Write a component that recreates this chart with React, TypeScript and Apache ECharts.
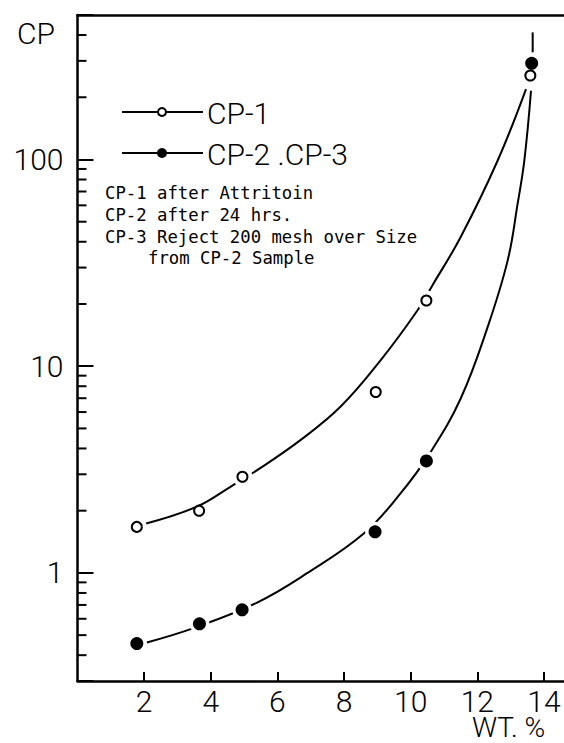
import React, { useEffect, useRef } from "react";
import * as echarts from "echarts";

// Measured points: CP-1 (open circles) and CP-2/CP-3 (filled circles)
const cp1X = [1.78, 3.65, 4.95, 8.95, 10.47, 13.59];
const cp1Y = [1.67, 2.0, 2.92, 7.5, 20.8, 255];
const cp2X = [1.78, 3.66, 4.94, 8.93, 10.47, 13.63];
const cp2Y = [0.455, 0.567, 0.663, 1.58, 3.48, 292];

// Hand-fitted trend curves
const cp1CurveX = [1.98, 3.58, 4.59, 5.39, 6.69, 7.89, 9.1, 10.2, 10.65, 11.5, 12.61, 13.46];
const cp1CurveY = [1.72, 2.09, 2.61, 3.14, 4.39, 6.36, 10.7, 18.6, 24.6, 42.2, 98.9, 219];
const cp2CurveX = [2.08, 3.48, 5.39, 6.89, 8.6, 9.7, 10.6, 11.5, 12.31, 12.91, 13.21, 13.41, 13.61];
const cp2CurveY = [0.461, 0.541, 0.719, 0.997, 1.555, 2.43, 3.85, 6.98, 15.5, 32.5, 61.3, 98.9, 215];

// Short vertical stroke above the last points
const topMarkX = [13.66, 13.66];
const topMarkY = [330, 412];

// Axis settings
const xTickValues = [2, 4, 6, 8, 10, 12, 14];
const yLabelValues = [1, 10, 100];
const yMinorTicks = [
  0.4, 0.5, 0.6, 0.7, 0.8, 0.9,
  2, 3, 4, 5, 6, 7, 8, 9,
  20, 30, 40, 50, 60, 70, 80, 90,
  200, 300, 400,
];

const legendLabels = ["CP-1", "CP-2 .CP-3"];
const noteLines = [
  "CP-1 after Attritoin",
  "CP-2 after 24 hrs.",
  "CP-3 Reject 200 mesh over Size",
  "from CP-2 Sample",
];

const zip = (xs: number[], ys: number[]) => xs.map((x, i) => [x, ys[i]]);

const SANS = "Roboto, 'Liberation Sans', sans-serif";
const MONO = "'DejaVu Sans Mono', 'Liberation Mono', monospace";

export default function App() {
  const ref = useRef<HTMLDivElement>(null);

  useEffect(() => {
    document.body.style.margin = "0";
    if (!ref.current) return;
    const chart = echarts.init(ref.current, null, { renderer: "svg" });

    const axisLabelStyle = {
      color: "#000",
      fontSize: 30,
      fontFamily: SANS,
      fontWeight: 300 as any,
    };

    const cp1Pts = zip(cp1X, cp1Y);
    const cp2Pts = zip(cp2X, cp2Y);
    // White halos break the curves around the markers
    const haloPts = [...cp1Pts.filter((_, i) => i !== 1), ...cp2Pts];

    const noteY = [193, 215, 237, 258];

    chart.setOption({
      animation: false,
      grid: { left: 77.5, right: 0, top: 15, bottom: 62 },
      xAxis: [
        {
          type: "value",
          min: 0,
          max: 14.6,
          interval: 2,
          axisLine: { lineStyle: { color: "#000", width: 2.5 } },
          axisTick: { inside: true, length: 9, lineStyle: { color: "#000", width: 2 } },
          axisLabel: {
            ...axisLabelStyle,
            margin: 5,
            showMinLabel: false,
            showMaxLabel: false,
            formatter: (v: number) => (xTickValues.includes(v) ? String(v) : ""),
          },
          splitLine: { show: false },
        },
        {
          type: "value",
          position: "top",
          min: 0,
          max: 14.6,
          axisLine: { show: true, lineStyle: { color: "#000", width: 2.5 } },
          axisTick: { show: false },
          axisLabel: { show: false },
          splitLine: { show: false },
        },
      ],
      yAxis: {
        type: "log",
        logBase: 10,
        min: 0.3,
        max: 500,
        axisLine: { show: true, lineStyle: { color: "#000", width: 2.5 } },
        axisTick: { inside: true, length: 16, lineStyle: { color: "#000", width: 2 } },
        axisLabel: {
          ...axisLabelStyle,
          margin: 14,
          formatter: (v: number) => {
            const hit = yLabelValues.find((t) => Math.abs(t - v) / t < 1e-6);
            return hit !== undefined ? String(hit) : "";
          },
        },
        splitLine: { show: false },
      },
      series: [
        {
          name: "CP-1 curve",
          type: "line",
          smooth: 0.4,
          symbol: "none",
          data: zip(cp1CurveX, cp1CurveY),
          lineStyle: { color: "#000", width: 2 },
          z: 2,
        },
        {
          name: "CP-2 curve",
          type: "line",
          smooth: 0.4,
          symbol: "none",
          data: zip(cp2CurveX, cp2CurveY),
          lineStyle: { color: "#000", width: 2 },
          z: 2,
        },
        {
          name: "top stroke",
          type: "line",
          symbol: "none",
          data: zip(topMarkX, topMarkY),
          lineStyle: { color: "#000", width: 2 },
          z: 2,
        },
        {
          name: "halo",
          type: "scatter",
          symbol: "circle",
          symbolSize: 20,
          data: haloPts,
          itemStyle: { color: "#fff", borderWidth: 0, opacity: 1 },
          z: 3,
        },
        {
          name: legendLabels[0],
          type: "scatter",
          symbol: "circle",
          symbolSize: 10,
          data: cp1Pts,
          itemStyle: { color: "#fff", borderColor: "#000", borderWidth: 2, opacity: 1 },
          z: 4,
        },
        {
          name: legendLabels[1],
          type: "scatter",
          symbol: "circle",
          symbolSize: 13,
          data: cp2Pts,
          itemStyle: { color: "#000", opacity: 1 },
          z: 4,
        },
        {
          // Minor log ticks (2..9 of each decade) on the inner side of the value axis
          name: "minor ticks",
          type: "custom",
          coordinateSystem: "cartesian2d",
          data: yMinorTicks.map((v) => [1, v]),
          renderItem: (params: any, api: any) => {
            const p = api.coord([1, api.value(1)]);
            const x0 = params.coordSys.x;
            return {
              type: "line",
              shape: { x1: x0, y1: p[1], x2: x0 + 9, y2: p[1] },
              style: { stroke: "#000", lineWidth: 2 },
            };
          },
          z: 6,
        },
      ],
    });

    chart.setOption({
      graphic: [
        {
          type: "text",
          x: 17,
          y: 33,
          style: { text: "CP", fill: "#000", fontSize: 30, fontFamily: SANS, fontWeight: 300, verticalAlign: "middle" },
        },
        {
          type: "text",
          x: 472,
          y: 727,
          style: {
            text: "WT. %",
            fill: "#000",
            fontSize: 28,
            lineHeight: 24,
            fontFamily: SANS,
            fontWeight: 300,
            verticalAlign: "middle",
          },
        },
        // Legend rows
        { type: "line", shape: { x1: 122, y1: 112, x2: 203, y2: 112 }, style: { stroke: "#000", lineWidth: 2 } },
        { type: "circle", shape: { cx: 162, cy: 112, r: 4 }, style: { fill: "#fff", stroke: "#000", lineWidth: 2 } },
        {
          type: "text",
          x: 207,
          y: 113,
          style: { text: legendLabels[0], fill: "#000", fontSize: 30, fontFamily: SANS, fontWeight: 300, verticalAlign: "middle" },
        },
        { type: "line", shape: { x1: 122, y1: 153, x2: 203, y2: 153 }, style: { stroke: "#000", lineWidth: 2 } },
        { type: "circle", shape: { cx: 162, cy: 153, r: 5 }, style: { fill: "#000" } },
        {
          type: "text",
          x: 207,
          y: 154,
          style: { text: legendLabels[1], fill: "#000", fontSize: 30, fontFamily: SANS, fontWeight: 300, verticalAlign: "middle" },
        },
        // Sample notes
        ...noteLines.map((t, i) => ({
          type: "text",
          x: i === 3 ? 148 : 105,
          y: noteY[i],
          style: { text: t, fill: "#000", fontSize: 17.3, fontFamily: MONO, verticalAlign: "middle" },
        })),
      ],
    });

    return () => chart.dispose();
  }, []);

  return <div ref={ref} style={{ width: 564, height: 743 }} />;
}
